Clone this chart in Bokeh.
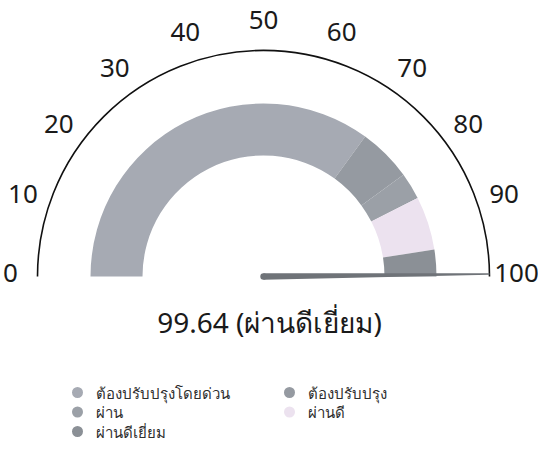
import math
from bokeh.plotting import figure
from bokeh.models import Range1d
from bokeh.core.properties import value
from bokeh.embed import file_html
from bokeh.resources import INLINE

# ---- data ----
band_labels = ["ต้องปรับปรุงโดยด่วน", "ต้องปรับปรุง", "ผ่าน", "ผ่านดี", "ผ่านดีเยี่ยม"]
band_starts = [0, 70, 80, 85, 95]
band_ends = [70, 80, 85, 95, 100]
band_colors = ["#a6aab3", "#959aa1", "#9ba0a7", "#ece2ef", "#8b9096"]
tick_values = [0, 10, 20, 30, 40, 50, 60, 70, 80, 90, 100]
tick_labels = ["0", "10", "20", "30", "40", "50", "60", "70", "80", "90", "100"]
gauge_value = 99.64
gauge_status = "ผ่านดีเยี่ยม"
v_min, v_max = 0, 100

# ---- geometry (pixels, data units = pixels) ----
W, H = 538, 451
CX, CY = 263, 276          # centre in canvas px (from top-left)
R_AXIS = 226
R_OUT, R_IN = 173, 121
R_LAB = 253
FONT = "Noto Sans"


def ang(v):
    return math.pi * (1 - (v - v_min) / (v_max - v_min))


p = figure(width=W, height=H, output_backend="svg", toolbar_location=None,
           x_range=Range1d(-CX, W - CX), y_range=Range1d(-(H - CY), CY),
           min_border=0, x_axis_location=None, y_axis_location=None)
p.grid.visible = False
p.outline_line_color = None
p.background_fill_color = "white"
p.border_fill_color = "white"

# bands
p.annular_wedge(x=0, y=0, inner_radius=R_IN, outer_radius=R_OUT,
                start_angle=[ang(e) for e in band_ends],
                end_angle=[ang(s) for s in band_starts],
                fill_color=band_colors, line_color=None)

# outer arc
p.arc(x=0, y=0, radius=R_AXIS, start_angle=0, end_angle=math.pi,
      line_color="#111111", line_width=1.6)

# tick labels
lx = [R_LAB * math.cos(ang(t)) for t in tick_values]
ly = [R_LAB * math.sin(ang(t)) + 4 for t in tick_values]
p.text(x=lx, y=ly, text=tick_labels, text_align="center", text_baseline="middle",
       text_font=value(FONT), text_font_size="26px", text_color="#1a1a1a")

# needle
a = ang(gauge_value)
px_, py_ = -math.sin(a), math.cos(a)
tip_x, tip_y = R_AXIS * math.cos(a), R_AXIS * math.sin(a)
bw, tw = 3.2, 0.8
p.patch(x=[bw * px_, tip_x + tw * px_, tip_x - tw * px_, -bw * px_],
        y=[bw * py_, tip_y + tw * py_, tip_y - tw * py_, -bw * py_],
        fill_color="#6f7378", line_color=None)
p.scatter(x=[0], y=[0], size=6.4, marker="circle", fill_color="#6f7378", line_color=None)

# value label
p.text(x=[6], y=[-45], text=[f"{gauge_value:.2f} ({gauge_status})"],
       text_align="center", text_baseline="middle",
       text_font=value(FONT), text_font_size="28px", text_color="#1a1a1a")

# legend (manual, 2 columns)
col_x = [-186, 26]
row_y0, row_dy = -116, 19.5
mx = [col_x[i % 2] for i in range(len(band_labels))]
my = [row_y0 - row_dy * (i // 2) for i in range(len(band_labels))]
p.scatter(x=mx, y=my, size=11, marker="circle", fill_color=band_colors, line_color=None)
p.text(x=[m + 18 for m in mx], y=my, text=band_labels, text_align="left",
       text_baseline="middle", text_font=value(FONT), text_font_size="15px",
       text_color="#2e2e2e")

open("out.html", "w").write(file_html(p, INLINE))
